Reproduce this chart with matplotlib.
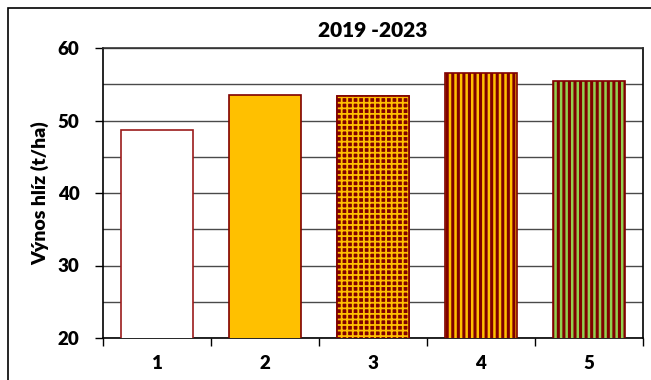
import matplotlib.pyplot as plt
from matplotlib.patches import Rectangle

plt.rcParams['font.family'] = ['Lato', 'DejaVu Sans']
plt.rcParams['font.weight'] = 'heavy'

# yields by variant
variants = ['1', '2', '3', '4', '5']
yields = [48.7, 53.5, 53.4, 56.6, 55.5]

dark_red = '#800000'
orange = '#FFC000'
faces = ['white', orange, dark_red, orange, '#92D050']
hatches = [None, None, None, '|||', '|||']

fig = plt.figure(figsize=(6.51, 3.80), dpi=100)
ax = fig.add_axes([103/651, 1-338/380, 540/651, 290/380])

x = list(range(1, len(variants) + 1))
bars = ax.bar(x, yields, width=0.66, color=faces,
              edgecolor=dark_red, linewidth=1.2, zorder=3)
for b, h in zip(bars, hatches):
    if h:
        b.set_hatch(h)
        if hasattr(b, 'set_hatch_linewidth'):
            b.set_hatch_linewidth(2.2)
bars[0].set_edgecolor('#9B1B1B')

# variant 3: orange lattice over dark red, then the outline again on top
grid = ax.bar(x[2], yields[2], width=0.66, color='none', edgecolor=orange,
              linewidth=0, hatch='+++', zorder=4)
if hasattr(grid[0], 'set_hatch_linewidth'):
    grid[0].set_hatch_linewidth(1.3)
ax.bar(x[2], yields[2], width=0.66, color='none', edgecolor=dark_red,
       linewidth=1.2, zorder=5)

ax.set_ylim(20, 60)
ax.set_xlim(0.5, 5.5)
ax.set_yticks([20, 30, 40, 50, 60])
ax.set_yticks([25, 35, 45, 55], minor=True)
ax.set_xticks(x)
ax.set_xticklabels(variants)
ax.set_xticks([0.5, 1.5, 2.5, 3.5, 4.5, 5.5], minor=True)

ax.grid(axis='y', which='both', color='#4a4a4a', linewidth=1.0, zorder=0)
ax.tick_params(axis='y', which='major', length=6, width=1, pad=11, labelsize=13.5)
ax.tick_params(axis='y', which='minor', length=0)
ax.tick_params(axis='x', which='major', length=0, pad=12, labelsize=13.5)
ax.tick_params(axis='x', which='minor', length=6, width=1)
for s in ax.spines.values():
    s.set_color('black')
    s.set_linewidth(1.2)
ax.spines['top'].set_color('#333333')

ax.set_title('2019 -2023', fontsize=15, fontweight='heavy', pad=8)
ax.set_ylabel('Výnos hlíz (t/ha)', fontsize=14, fontweight='heavy', labelpad=6)

# outer chart frame
fig.patches.append(Rectangle((8/651, -0.1), 1.2, 1 - 8/380 + 0.1,
                             transform=fig.transFigure, fill=False,
                             edgecolor='black', linewidth=1.2))

fig.savefig('out.png', dpi=100)
